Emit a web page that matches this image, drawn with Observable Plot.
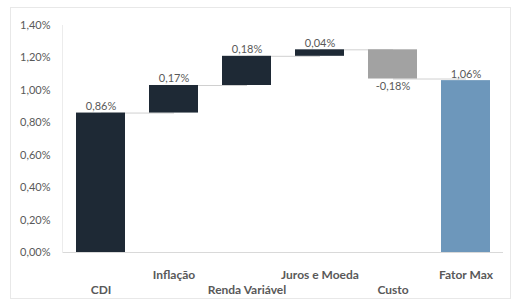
<!DOCTYPE html>
<html>
<head>
<meta charset="utf-8">
<script src="https://cdn.jsdelivr.net/npm/d3@7"></script>
<script src="https://cdn.jsdelivr.net/npm/@observablehq/plot@0.6"></script>
<style>
  html, body { margin: 0; padding: 0; background: #fff; }
  #wrap { position: relative; width: 517px; height: 304px; overflow: hidden; }
  #border { position: absolute; left: 10px; top: 7px; width: 501px; height: 292px; border: 1px solid #e8e8e8; box-sizing: border-box; }
  #chart { position: absolute; left: 0; top: 0; }
</style>
</head>
<body>
<div id="wrap"><div id="border"></div><div id="chart"></div></div>
<script>
const categories = ["CDI", "Inflação", "Renda Variável", "Juros e Moeda", "Custo", "Fator Max"];
const deltas = [0.86, 0.17, 0.18, 0.04, -0.18];
const total = 1.06;
const kinds = ["start", "up", "up", "up", "down", "total"];
const yTicks = [0, 0.2, 0.4, 0.6, 0.8, 1.0, 1.2, 1.4];
const upperLabels = ["Inflação", "Juros e Moeda", "Fator Max"];
const lowerLabels = ["CDI", "Renda Variável", "Custo"];

const colors = {start: "#1e2935", up: "#1e2935", down: "#a2a2a2", total: "#6d97bb"};
const fmt = v => v.toFixed(2).replace(".", ",") + "%";

let run = 0;
const rows = categories.map((c, i) => {
  if (kinds[i] === "total") return {cat: c, y1: 0, y2: total, value: total, kind: kinds[i]};
  const y1 = run, y2 = run + deltas[i];
  run = y2;
  return {cat: c, y1, y2, value: deltas[i], kind: kinds[i]};
});
const conns = rows.slice(0, -1).map((r, i) => ({a: r.cat, b: rows[i + 1].cat, y: r.y2}));

const font = "Lato, 'Open Sans', sans-serif";
const chart = Plot.plot({
  width: 517,
  height: 304,
  marginLeft: 62,
  marginRight: 14,
  marginTop: 25,
  marginBottom: 52,
  style: {fontFamily: font, fontSize: "11px", color: "#595959", background: "transparent"},
  x: {domain: categories, paddingInner: 0.33, paddingOuter: 0.165, axis: null},
  y: {domain: [0, 1.4], axis: null},
  marks: [
    Plot.ruleY([0], {stroke: "#d9d9d9"}),
    Plot.frame({anchor: "left", stroke: "#ececec"}),
    Plot.axisY({ticks: yTicks, tickSize: 0, tickPadding: 12, tickFormat: fmt, fill: "#595959", fontSize: 11}),
    Plot.link(conns, {x1: "a", x2: "b", y1: "y", y2: "y", stroke: "#d0d0d0", strokeWidth: 1}),
    Plot.barY(rows, {x: "cat", y1: "y1", y2: "y2", fill: d => colors[d.kind]}),
    Plot.text(rows.filter(d => d.value >= 0), {x: "cat", y: d => Math.max(d.y1, d.y2), text: d => fmt(d.value), lineAnchor: "bottom", dy: -3, fill: "#595959", fontSize: 11}),
    Plot.text(rows.filter(d => d.value < 0), {x: "cat", y: d => Math.min(d.y1, d.y2), text: d => fmt(d.value), lineAnchor: "top", dy: 3, fill: "#595959", fontSize: 11}),
    Plot.axisX({ticks: upperLabels, tickSize: 0, tickPadding: 18, fontWeight: "bold", fill: "#595959", fontSize: 12}),
    Plot.axisX({ticks: lowerLabels, tickSize: 0, tickPadding: 33, fontWeight: "bold", fill: "#595959", fontSize: 12})
  ]
});
document.getElementById("chart").appendChild(chart);
</script>
</body>
</html>
